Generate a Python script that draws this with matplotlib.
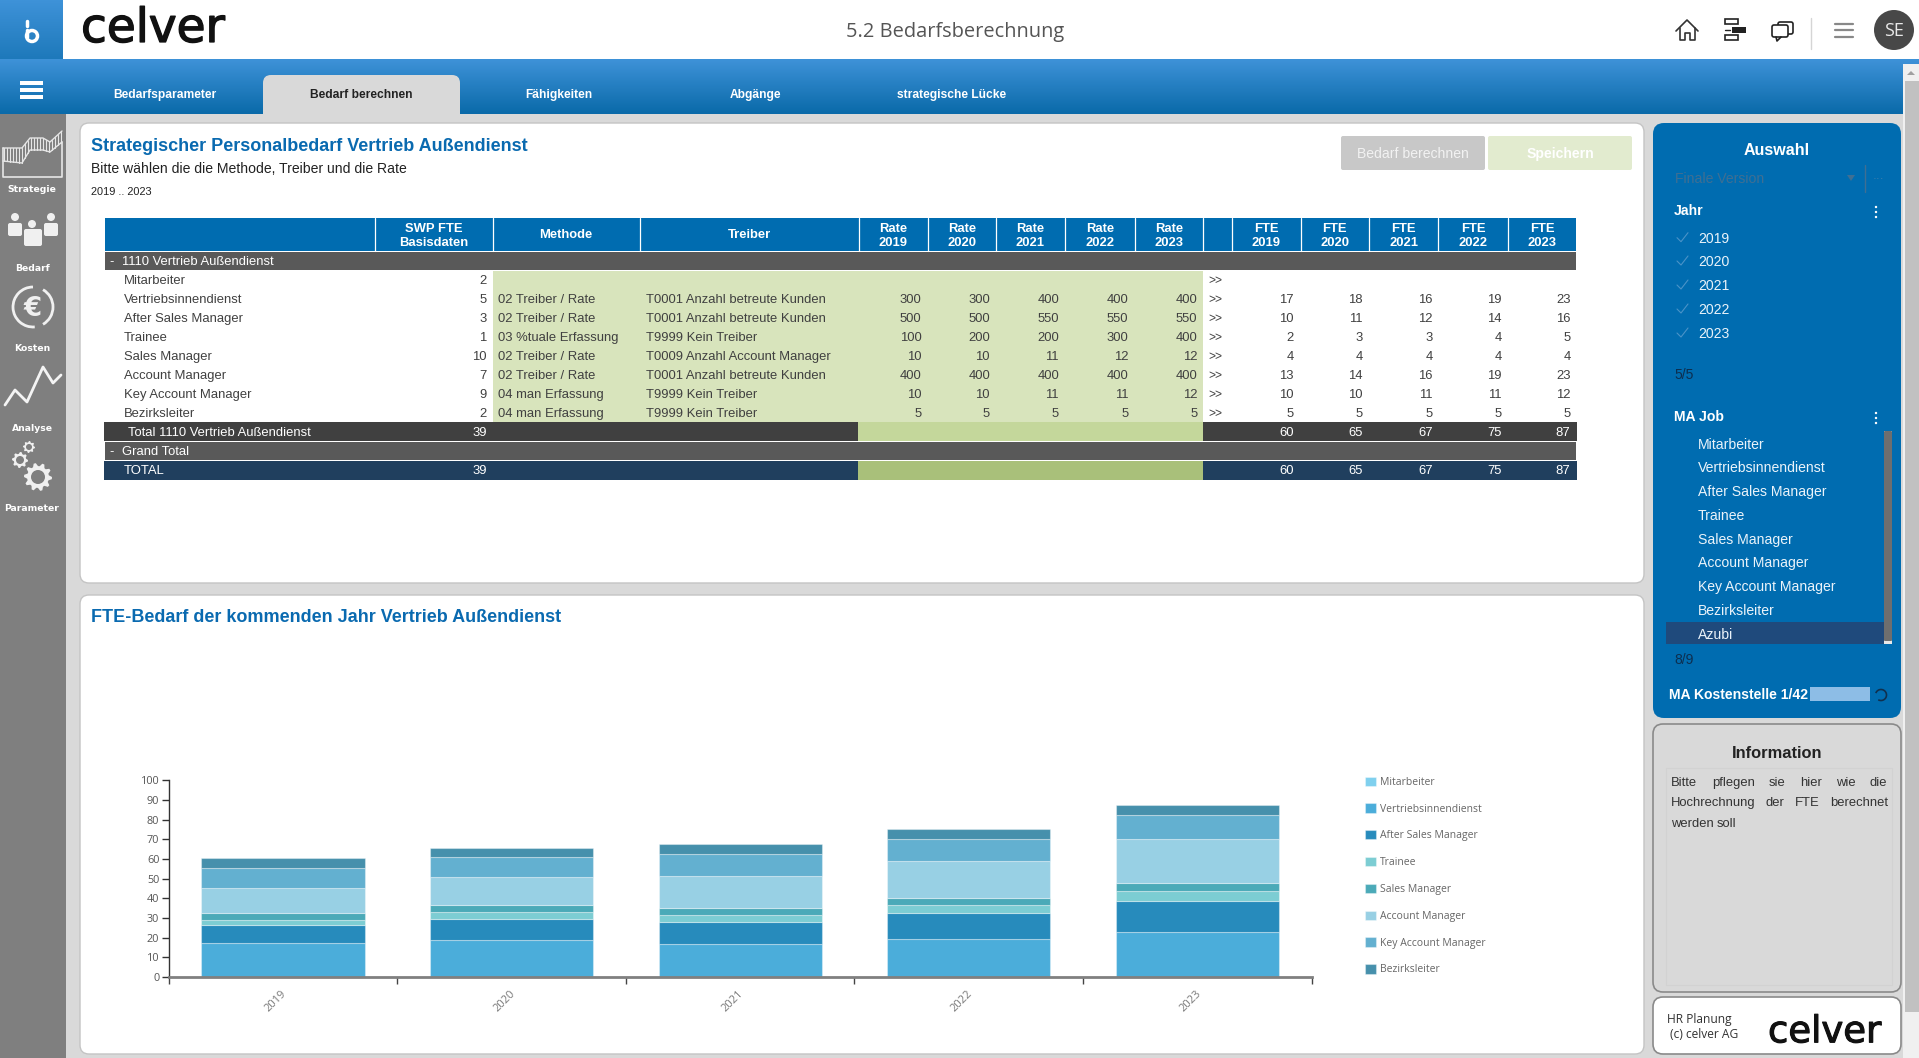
import numpy as np
import matplotlib
matplotlib.use("Agg")
import matplotlib.pyplot as plt
import matplotlib.patheffects as pe
from matplotlib.patches import Rectangle, FancyBboxPatch, Circle, Arc, Polygon
from matplotlib.transforms import ScaledTranslation

# Daten
years = ["2019", "2020", "2021", "2022", "2023"]
jobs = ["Mitarbeiter", "Vertriebsinnendienst", "After Sales Manager", "Trainee",
        "Sales Manager", "Account Manager", "Key Account Manager", "Bezirksleiter"]
basis = [2, 5, 3, 1, 10, 7, 9, 2]
methods = ["", "02 Treiber / Rate", "02 Treiber / Rate", "03 %tuale Erfassung",
           "02 Treiber / Rate", "02 Treiber / Rate", "04 man Erfassung", "04 man Erfassung"]
drivers = ["", "T0001 Anzahl betreute Kunden", "T0001 Anzahl betreute Kunden", "T9999 Kein Treiber",
           "T0009 Anzahl Account Manager", "T0001 Anzahl betreute Kunden", "T9999 Kein Treiber",
           "T9999 Kein Treiber"]
rates = [
    ["", "", "", "", ""],
    [300, 300, 400, 400, 400],
    [500, 500, 550, 550, 550],
    [100, 200, 200, 300, 400],
    [10, 10, 11, 12, 12],
    [400, 400, 400, 400, 400],
    [10, 10, 11, 11, 12],
    [5, 5, 5, 5, 5],
]
fte = [
    ["", "", "", "", ""],
    [17, 18, 16, 19, 23],
    [10, 11, 12, 14, 16],
    [2, 3, 3, 4, 5],
    [4, 4, 4, 4, 4],
    [13, 14, 16, 19, 23],
    [10, 10, 11, 11, 12],
    [5, 5, 5, 5, 5],
]
basis_total = 39
fte_total = [60, 65, 67, 75, 87]

# Balkenwerte je Job
v_mitarbeiter = [0, 0, 0, 0, 0]
v_innendienst = [17.3, 18.8, 16.8, 19.2, 22.7]
v_aftersales = [9.1, 10.9, 11.3, 13.3, 15.8]
v_trainee = [2.6, 3.2, 3.3, 4.3, 5.2]
v_sales = [3.7, 3.9, 3.9, 3.4, 3.9]
v_account = [12.7, 13.9, 16.2, 18.8, 22.6]
v_keyaccount = [10.2, 10.1, 11.2, 11.2, 12.0]
v_bezirk = [5.1, 5.0, 5.1, 4.9, 5.1]
chart_series = [v_mitarbeiter, v_innendienst, v_aftersales, v_trainee,
                v_sales, v_account, v_keyaccount, v_bezirk]
chart_colors = ["#7fd0ee", "#4badda", "#278bbc", "#7ccdd3", "#4baab8", "#98d0e4", "#63b0d0", "#4690ac"]
y_ticks = [0, 10, 20, 30, 40, 50, 60, 70, 80, 90, 100]

side_labels = ["Strategie", "Bedarf", "Kosten", "Analyse", "Parameter"]
tabs = ["Bedarfsparameter", "Bedarf berechnen", "Fähigkeiten", "Abgänge", "strategische Lücke"]
job_filter = jobs + ["Azubi"]

W, H = 1919, 1058
BLUE = "#006cb0"
ARIAL = "Liberation Sans"
SEGOE = "Open Sans"
LOGO = "DejaVu Sans"

fig = plt.figure(figsize=(W / 100, H / 100), dpi=100, facecolor="#d9d9d9")
bg = fig.add_axes([0, 0, 1, 1])
bg.set_axis_off()


def rect(x0, y0, x1, y1, color, z=1, **kw):
    bg.add_patch(Rectangle((x0, y0), x1 - x0, y1 - y0, facecolor=color, edgecolor="none", zorder=z, **kw))


def rrect(x0, y0, x1, y1, color, r=8, edge="none", lw=1, z=1):
    bg.add_patch(FancyBboxPatch((x0 + r, y0 + r), x1 - x0 - 2 * r, y1 - y0 - 2 * r,
                                boxstyle=f"round,pad={r},rounding_size={r}",
                                facecolor=color, edgecolor=edge, linewidth=lw, zorder=z))


def txt(x, y, s, px=13, color="#404040", ha="left", weight="normal", family=ARIAL, **kw):
    # auf der Grundlinie setzen, sonst springen die Zeilen je nach Unterlänge
    return bg.text(x, y + 0.36 * px, str(s), fontsize=px * 0.72, color=color, ha=ha, va="baseline",
                   fontweight=weight, family=family, zorder=6, **kw)


def line(xs, ys, color="white", lw=1.5, z=5):
    bg.plot(xs, ys, color=color, lw=lw, solid_capstyle="round", zorder=z)


def gear(cx, cy, r, teeth, color="#f0f0f0"):
    ang = np.linspace(0, 2 * np.pi, teeth * 4, endpoint=False)
    rad = np.tile([r, r, r * 0.78, r * 0.78], teeth)
    bg.add_patch(Polygon(np.c_[cx + rad * np.cos(ang), cy + rad * np.sin(ang)],
                         facecolor=color, edgecolor="none", zorder=5))
    bg.add_patch(Circle((cx, cy), r * 0.5, facecolor="#7f7f7f", edgecolor="none", zorder=6))


def logo(x, y, px, stroke):
    t = txt(x, y, "celver", px=px, color="#111111", family=LOGO)
    t.set_path_effects([pe.withStroke(linewidth=stroke, foreground="#111111")])


# Kopfzeile
grad = np.linspace(0, 1, 64)[:, None, None] * (np.array([10, 106, 169]) - np.array([62, 146, 216])) + np.array([62, 146, 216])
bg.imshow(grad / 255, extent=[0, W, 114, 59], aspect="auto", zorder=0)
rect(0, 0, W, 59, "white")
bg.imshow(grad[:40] / 255, extent=[0, 63, 59, 0], aspect="auto", zorder=2)
rect(0, 114, W, H, "#d9d9d9", z=0)
bg.set_xlim(0, W)
bg.set_ylim(H, 0)

# Logo + Titel
bg.add_patch(Circle((32, 36), 5.5, facecolor="none", edgecolor="white", lw=2.5, zorder=3))
line([26.5, 26.5], [30, 37], lw=2.5)
line([26.5, 26.5], [21, 26], lw=2.5)
logo(81, 25, 47, 1.0)
txt(955, 30, "5.2 Bedarfsberechnung", px=20, color="#555555", ha="center", family=SEGOE)

# Icons oben rechts
line([1676, 1687, 1698], [31, 20, 31], color="#333333", lw=1.2)
line([1680, 1680, 1685, 1685, 1690, 1690, 1695, 1695],
     [28, 40, 40, 33, 33, 40, 40, 28], color="#333333", lw=1.2)
for yy in [19, 35]:
    bg.add_patch(Rectangle((1725, yy), 13, 5, facecolor="none", edgecolor="#222222", lw=1.2, zorder=5))
rect(1732, 27, 1746, 33, "#222222", z=5)
line([1725, 1730], [30, 30], color="#222222", lw=1)
rrect(1772, 25, 1788, 37, "white", r=2, edge="#222222", lw=1.2, z=5)
rrect(1778, 22, 1793, 34, "white", r=2, edge="#222222", lw=1.2, z=4)
line([1776, 1777, 1781], [37, 41, 37], color="#222222", lw=1.2)
line([1811, 1811], [18, 49], color="#d5d5d5", lw=1)
for yy in [24, 30, 37]:
    line([1835, 1853], [yy, yy], color="#888888", lw=1.6)
bg.add_patch(Circle((1894, 30), 20, facecolor="#484848", edgecolor="none", zorder=4))
txt(1894, 30, "SE", px=18, color="#e8e8e8", ha="center", family=SEGOE)

# Seiten-Scrollbar
rect(1903, 64, W, H, "#f0f0f0", z=1)
rect(1905, 81, W, 1012, "#c1c1c1", z=2)
bg.add_patch(Polygon([[1907, 75], [1915, 75], [1911, 71]], facecolor="#a0a0a0", edgecolor="none", zorder=3))

# Reiter
rect(0, 114, 66, H, "#7f7f7f", z=1)
for yy in [83, 90, 97]:
    rect(20, yy - 2, 43, yy + 2, "white", z=3)
bg.add_patch(FancyBboxPatch((271, 83), 181, 23, boxstyle="round,pad=8,rounding_size=8",
                            facecolor="#d9d9d9", edgecolor="none", zorder=2))
rect(263, 100, 460, 114, "#d9d9d9", z=2)
for cx, label in zip([165, 361, 558.5, 755.5, 952], tabs):
    txt(cx, 94, label, px=12, ha="center", weight="bold",
        color="#222222" if label == tabs[1] else "white")

# Seitenleiste
for yy, label in zip([189, 268, 348, 428, 508], side_labels):
    txt(32, yy, label, px=9.3, color="white", ha="center", weight="bold", family="DejaVu Sans")
xs_top = [3, 22, 30, 43, 50, 62]
ys_top = [148, 148, 138, 138, 142, 131]
ys_low = [161, 163, 150, 150, 152, 142]
for xx in np.arange(4, 62, 3):
    line([xx, xx], [np.interp(xx, xs_top, ys_top), np.interp(xx, xs_top, ys_low)], color="#e6e6e6", lw=0.8)
line(xs_top, ys_top, color="#e6e6e6", lw=1)
line(xs_top, ys_low, color="#e6e6e6", lw=1)
line([3, 3, 62, 62], [148, 177, 177, 142], color="#e6e6e6", lw=1.2)
for cx, cy, x0, y0, x1, y1 in [(15, 217, 8, 223, 22, 236), (51, 217, 44, 223, 58, 236), (32, 224, 24, 229, 42, 246)]:
    bg.add_patch(Circle((cx, cy), 4, facecolor="#f0f0f0", edgecolor="none", zorder=5))
    rrect(x0, y0, x1, y1, "#f0f0f0", r=2, z=5)
bg.add_patch(Arc((33, 307), 40, 40, theta1=-60, theta2=60, color="#f0f0f0", lw=2, zorder=5))
bg.add_patch(Arc((33, 307), 40, 40, theta1=85, theta2=270, color="#f0f0f0", lw=2, zorder=5))
txt(33, 307, "€", px=26, color="#f0f0f0", ha="center", weight="bold", family="DejaVu Sans")
line([5, 15, 27, 43, 53, 61], [405, 390, 402, 367, 383, 375], color="#f4f4f4", lw=2)
gear(29, 447, 6, 8)
gear(20, 460, 8, 8)
gear(38, 477, 14, 10)

# Oberes Panel
rrect(80, 123, 1644, 583, "white", r=9, edge="#c4c4c4", z=1)
txt(91, 145, "Strategischer Personalbedarf Vertrieb Außendienst", px=18, color="#0a6ab0", weight="bold")
txt(91, 168, "Bitte wählen die die Methode, Treiber und die Rate", px=14, color="#222222")
txt(91, 191, "2019 .. 2023", px=11, color="#222222")
rrect(1341, 136, 1485, 170, "#c8c8c8", r=2, z=2)
txt(1413, 153, "Bedarf berechnen", px=14, color="#f2f2f2", ha="center")
rrect(1488, 136, 1632, 170, "#e2ebcf", r=2, z=2)
txt(1560, 153, "Speichern", px=14, color="white", ha="center", weight="bold")

# Tabelle
col_edges = [105, 375, 492.5, 640, 859, 927.5, 996, 1065, 1135, 1203, 1232, 1300.5, 1369, 1438, 1508, 1576]
rate_right = [921.5, 990, 1059, 1128.5, 1197.5]
fte_right = [1294, 1363, 1432.5, 1501.5, 1570.5]
rect(105, 218, 1576, 251, BLUE, z=2)
for xx in col_edges[1:-1]:
    line([xx, xx], [218, 251], lw=0.9)


def head(cx, first, second):
    txt(cx, 227, first, color="white", ha="center", weight="bold")
    txt(cx, 241.5, second, color="white", ha="center", weight="bold")


head(434, "SWP FTE", "Basisdaten")
txt(566, 233.5, "Methode", color="white", ha="center", weight="bold")
txt(750, 233.5, "Treiber", color="white", ha="center", weight="bold")
for i, yr in enumerate(years):
    head((col_edges[4 + i] + col_edges[5 + i]) / 2, "Rate", yr)
    head((col_edges[10 + i] + col_edges[11 + i]) / 2, "FTE", yr)

rect(105, 252, 1576, 270, "#595959", z=2)
txt(109, 260.5, "-", color="white", px=13)
txt(121.5, 260.5, "1110 Vertrieb Außendienst", color="white", px=13)
rect(492.5, 270.5, 1203, 422, "#d8e4bc", z=2)
for i, job in enumerate(jobs):
    yy = 279.3 + 19 * i
    txt(124, yy, job)
    txt(486.5, yy, basis[i], ha="right")
    txt(497.5, yy, methods[i])
    txt(645.5, yy, drivers[i])
    txt(1208.5, yy, ">>", px=12)
    for k in range(5):
        txt(rate_right[k], yy, rates[i][k], ha="right")
        txt(fte_right[k], yy, fte[i][k], ha="right")

rect(104, 422, 858, 440.7, "#404040", z=2)
rect(858, 422, 1203, 440.7, "#c4d79b", z=2)
rect(1203, 422, 1577, 440.7, "#404040", z=2)
txt(128, 431.3, "Total 1110 Vertrieb Außendienst", color="white")
txt(486.5, 431.3, basis_total, color="white", ha="right")
rect(105, 442, 1576, 460, "#595959", z=2)
txt(109, 450.5, "-", color="white")
txt(121.5, 450.5, "Grand Total", color="white")
rect(104, 461, 858, 480, "#203f5e", z=2)
rect(858, 461, 1203, 480, "#a9c07a", z=2)
rect(1203, 461, 1577, 480, "#203f5e", z=2)
txt(124, 469.5, "TOTAL", color="white")
txt(486.5, 469.5, basis_total, color="white", ha="right")
for k in range(5):
    txt(fte_right[k], 431.3, fte_total[k], color="white", ha="right")
    txt(fte_right[k], 469.5, fte_total[k], color="white", ha="right")

# Unteres Panel
rrect(80, 595, 1644, 1054, "white", r=9, edge="#c4c4c4", z=1)
txt(91, 616, "FTE-Bedarf der kommenden Jahr Vertrieb Außendienst", px=18, color="#0a6ab0", weight="bold")

# Diagramm
left, right, top, bottom = 168.7, 1311.6, 780.3, 977
ax = fig.add_axes([left / W, 1 - bottom / H, (right - left) / W, (bottom - top) / H], facecolor="none", zorder=3)
pos = np.arange(len(years))
stack = np.zeros(len(years))
handles = []
for name, vals, col in zip(jobs, chart_series, chart_colors):
    bars = ax.bar(pos, vals, 0.714, bottom=stack, color=col, edgecolor=(1, 1, 1, 0.35), linewidth=0.8, label=name)
    handles.append(bars)
    stack += np.array(vals)
ax.set_xlim(-0.5, len(years) - 0.5)
ax.set_ylim(0, 100)
ax.set_yticks(y_ticks)
ax.set_xticks(np.arange(-0.5, len(years)))
ax.set_xticklabels([])
ax.set_xticks(pos, years, minor=True)
ax.tick_params(axis="x", which="major", length=5, width=1, color="#444444")
ax.tick_params(axis="x", which="minor", length=0, pad=8, labelsize=8, labelcolor="#777777")
ax.tick_params(axis="y", length=5, width=1, color="#333333", labelsize=7.8, labelcolor="#555555", pad=1.8)
for lab in ax.get_xticklabels(minor=True):
    lab.set_rotation(45)
    lab.set_ha("center")
    lab.set_family(SEGOE)
    lab.set_transform(lab.get_transform() + ScaledTranslation(-7 / 100, 0, fig.dpi_scale_trans))
for lab in ax.get_yticklabels():
    lab.set_family(SEGOE)
for s in ["top", "right"]:
    ax.spines[s].set_visible(False)
ax.spines["left"].set_color("#333333")
ax.spines["left"].set_linewidth(1)
ax.spines["bottom"].set_color("#808080")
ax.spines["bottom"].set_linewidth(2)
ax.legend(handles, jobs, loc="upper left", bbox_to_anchor=(1361, 772.4), bbox_transform=bg.transData, frameon=False,
          prop={"family": SEGOE, "size": 7.5}, labelcolor="#666666", labelspacing=1.495,
          handlelength=1.0, handleheight=1.0, handletextpad=0.45, borderpad=0.4, borderaxespad=0)

# Auswahl
rrect(1653, 123, 1901, 718, BLUE, r=11, z=1)
txt(1777, 149.5, "Auswahl", px=16, color="white", ha="center", weight="bold")
txt(1675, 178, "Finale Version", px=14, color="#3f6f93")
bg.add_patch(Polygon([[1847, 175], [1855, 175], [1851, 181]], facecolor="#3f6f93", edgecolor="none", zorder=4))
line([1865, 1865], [165, 192], color="#3f6f93", lw=1)
txt(1873, 178, "···", px=12, color="#3f7fae")
for label, yy in [("Jahr", 210), ("MA Job", 416)]:
    txt(1674, yy, label, px=14, color="white", weight="bold")
    for dy in [-4, 1, 6]:
        bg.add_patch(Circle((1876, yy + 2 + dy - 1), 1.2, facecolor="white", edgecolor="none", zorder=5))
for yr, yy in zip(years, [237.7, 261, 285, 309, 333]):
    txt(1698, yy, yr, px=14, color="#eaf3fa")
    line([1677, 1681, 1688], [yy, yy + 4, yy - 5], color="#4a93c8", lw=0.8)
txt(1674, 373.5, "5/5", px=14, color="#0d2f50")
rect(1666, 622, 1884, 644, "#1f4a7c", z=2)
for label, yy in zip(job_filter, [444, 467, 491, 515, 539, 562, 586, 610, 634]):
    txt(1698, yy, label, px=14, color="#eaf3fa")
rect(1884, 431, 1892, 644, "#e8e8e8", z=2)
rrect(1884, 431, 1892, 641, "#6e6e6e", r=1, z=3)
txt(1674, 659, "8/9", px=14, color="#0d2f50")
txt(1669, 694, "MA Kostenstelle 1/42", px=14, color="white", weight="bold")
rect(1810, 687, 1870, 701, "#8dbde6", z=2)
bg.add_patch(Arc((1881, 695), 11, 11, theta1=200, theta2=120, color="#10304e", lw=1.2, zorder=5))

# Information
rrect(1653, 724, 1901, 992, "#d9d9d9", r=10, edge="#8a8a8a", lw=1.2, z=1)
bg.add_patch(Rectangle((1666, 768), 226, 217, facecolor="none", edgecolor="#d2d2d2", lw=0.8, zorder=3))
txt(1777, 752, "Information", px=16.5, color="#222222", ha="center", weight="bold")
info_lines = [(781, ["Bitte", "pflegen", "sie", "hier", "wie", "die"], [1671, 1712, 1769, 1800, 1836, 1870]),
              (801, ["Hochrechnung", "der", "FTE", "berechnet"], [1671, 1766, 1795, 1830]),
              (822, ["werden", "soll"], [1671, 1717])]
for yy, words, starts in info_lines:
    for w, xx in zip(words, starts):
        txt(xx, yy, w, px=13, color="#333333")

# Logo-Karte
rrect(1653, 997, 1901, 1054, "white", r=10, edge="#8a8a8a", lw=1.2, z=1)
txt(1667, 1019, "HR Planung", px=12, color="#333333", family=SEGOE)
txt(1670, 1034, "(c) celver AG", px=12, color="#333333", family=SEGOE)
logo(1768, 1029, 37, 0.8)

fig.savefig("out.png", dpi=100, facecolor=fig.get_facecolor())
